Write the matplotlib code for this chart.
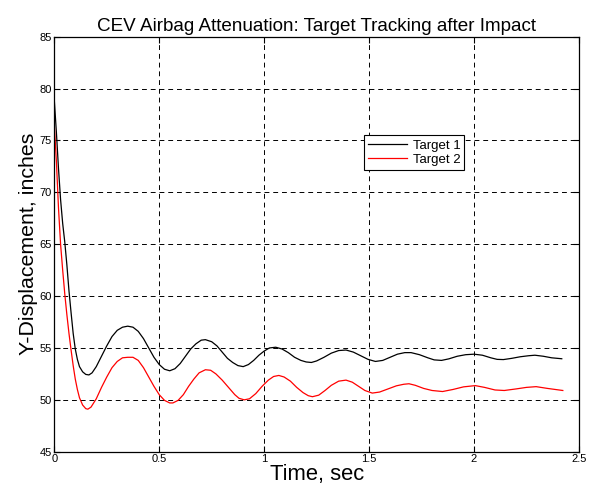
import matplotlib
matplotlib.use("Agg")
import matplotlib.pyplot as plt

plt.rcParams["font.family"] = ["Liberation Sans", "DejaVu Sans"]

# Target 1 (black)
t1 = [0.000, 0.010, 0.020, 0.030, 0.040, 0.050, 0.060, 0.070, 0.080, 0.090,
      0.100, 0.110, 0.120, 0.135, 0.150, 0.165, 0.180, 0.200, 0.225, 0.250,
      0.275, 0.300, 0.325, 0.350, 0.375, 0.400, 0.425, 0.450, 0.475, 0.500,
      0.525, 0.550, 0.575, 0.600, 0.625, 0.650, 0.675, 0.700, 0.720, 0.750,
      0.775, 0.800, 0.825, 0.850, 0.875, 0.900, 0.925, 0.950, 0.975, 1.000,
      1.025, 1.055, 1.085, 1.115, 1.145, 1.175, 1.200, 1.225, 1.250, 1.285,
      1.320, 1.355, 1.390, 1.425, 1.460, 1.495, 1.530, 1.565, 1.600, 1.635,
      1.670, 1.700, 1.740, 1.780, 1.810, 1.845, 1.880, 1.920, 1.960, 2.000,
      2.040, 2.080, 2.110, 2.140, 2.180, 2.220, 2.260, 2.290, 2.330, 2.370,
      2.418]
y1 = [78.9, 75.8, 72.3, 69.3, 67.0, 65.2, 63.0, 60.5, 58.4, 56.4,
      54.9, 53.9, 53.2, 52.7, 52.45, 52.4, 52.6, 53.2, 54.2, 55.2,
      56.1, 56.7, 57.0, 57.1, 57.0, 56.6, 55.9, 55.0, 54.1, 53.4,
      52.95, 52.8, 53.0, 53.5, 54.2, 54.9, 55.4, 55.75, 55.8, 55.6,
      55.2, 54.6, 54.0, 53.6, 53.3, 53.2, 53.4, 53.8, 54.3, 54.7,
      55.0, 55.07, 54.9, 54.55, 54.1, 53.8, 53.65, 53.6, 53.75, 54.1,
      54.5, 54.75, 54.8, 54.6, 54.25, 53.9, 53.7, 53.8, 54.1, 54.4,
      54.55, 54.55, 54.35, 54.05, 53.85, 53.8, 53.95, 54.2, 54.35, 54.4,
      54.3, 54.05, 53.9, 53.88, 54.0, 54.15, 54.25, 54.3, 54.2, 54.05,
      53.96]

# Target 2 (red)
t2 = [0.000, 0.010, 0.020, 0.030, 0.040, 0.050, 0.060, 0.070, 0.080, 0.090,
      0.100, 0.110, 0.120, 0.135, 0.150, 0.160, 0.175, 0.200, 0.225, 0.250,
      0.275, 0.300, 0.325, 0.350, 0.375, 0.400, 0.425, 0.450, 0.475, 0.500,
      0.525, 0.550, 0.565, 0.590, 0.615, 0.640, 0.665, 0.690, 0.720, 0.745,
      0.770, 0.800, 0.830, 0.860, 0.880, 0.905, 0.930, 0.960, 0.990, 1.020,
      1.045, 1.070, 1.095, 1.125, 1.155, 1.185, 1.210, 1.230, 1.260, 1.290,
      1.320, 1.355, 1.390, 1.420, 1.450, 1.480, 1.515, 1.550, 1.590, 1.630,
      1.665, 1.690, 1.720, 1.760, 1.800, 1.850, 1.900, 1.950, 2.006, 2.050,
      2.100, 2.144, 2.200, 2.250, 2.296, 2.350, 2.423]
y2 = [76.5, 73.0, 68.5, 65.0, 62.5, 60.2, 58.2, 56.4, 54.8, 53.3,
      52.0, 51.0, 50.2, 49.5, 49.15, 49.1, 49.3, 50.1, 51.2, 52.2,
      53.1, 53.7, 54.05, 54.1, 54.1, 53.8, 53.1, 52.2, 51.3, 50.5,
      49.95, 49.7, 49.7, 49.95, 50.5, 51.3, 52.0, 52.6, 52.9, 52.85,
      52.5, 51.9, 51.2, 50.5, 50.15, 50.0, 50.1, 50.6, 51.3, 51.9,
      52.25, 52.35, 52.2, 51.8, 51.2, 50.7, 50.4, 50.3, 50.45, 50.9,
      51.4, 51.8, 51.9, 51.7, 51.3, 50.9, 50.65, 50.75, 51.05, 51.35,
      51.5, 51.55, 51.4, 51.1, 50.9, 50.8, 51.0, 51.25, 51.37, 51.2,
      50.95, 50.9, 51.05, 51.2, 51.27, 51.1, 50.9]

x_ticks = [0, 0.5, 1, 1.5, 2, 2.5]
x_tick_labels = ["0", "0.5", "1", "1.5", "2", "2.5"]
y_ticks = [45, 50, 55, 60, 65, 70, 75, 80, 85]

fig = plt.figure(figsize=(5.92, 4.92), dpi=100)
ax = fig.add_axes([0.0917, 0.0819, 0.8863, 0.8435])

ax.plot(t1, y1, color="black", lw=0.9, label="Target 1")
ax.plot(t2, y2, color="red", lw=0.9, label="Target 2")

ax.set_xlim(0, 2.5)
ax.set_ylim(45, 85)
ax.set_xticks(x_ticks)
ax.set_xticklabels(x_tick_labels)
ax.set_yticks(y_ticks)
ax.tick_params(direction="in", top=True, right=True, labelsize=8,
               length=4, width=0.8, pad=2)
for sp in ax.spines.values():
    sp.set_linewidth(0.9)

ax.grid(True, color="black", linestyle=(0, (5, 4)), linewidth=0.7)

ax.set_title("CEV Airbag Attenuation: Target Tracking after Impact",
             fontsize=13.6, pad=4)
ax.set_xlabel("Time, sec", fontsize=15.8, labelpad=0)
ax.set_ylabel("Y-Displacement, inches", fontsize=15.4, labelpad=1)

leg = ax.legend(loc="upper left", bbox_to_anchor=(0.59, 0.762),
                fontsize=9.5, frameon=True, fancybox=False, framealpha=1,
                edgecolor="black", borderpad=0.3, handlelength=3.0,
                labelspacing=0.15, handletextpad=0.4, borderaxespad=0)
leg.get_frame().set_linewidth(0.8)

fig.savefig("out.png", dpi=100)
